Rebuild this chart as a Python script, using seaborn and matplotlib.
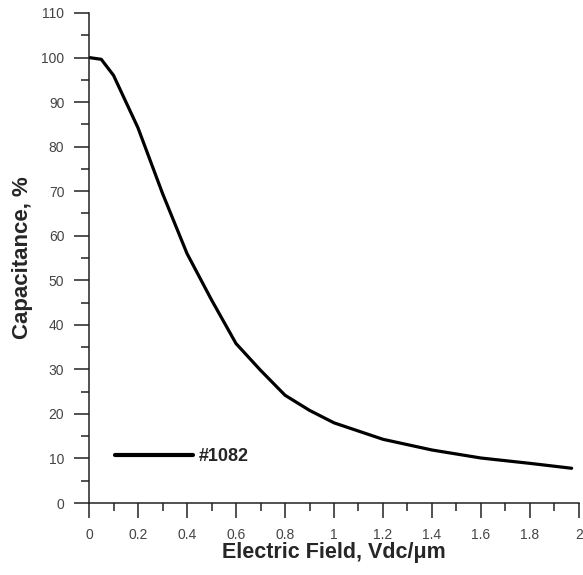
import numpy as np
import pandas as pd
import matplotlib
matplotlib.use("Agg")
import matplotlib.pyplot as plt
from matplotlib.ticker import MultipleLocator
import seaborn as sns

# values
field = [0.0, 0.05, 0.1, 0.2, 0.3, 0.4, 0.5, 0.6, 0.7, 0.8, 0.9, 1.0, 1.2, 1.4, 1.6, 1.8, 1.97]
capacitance = [100.0, 99.6, 96.0, 84.2, 69.5, 56.0, 45.6, 35.8, 29.8, 24.2, 20.8, 18.0, 14.3, 11.9, 10.1, 8.9, 7.8]
series_name = "#1082"

sns.set_style("ticks")
plt.rcParams['font.family'] = ['Liberation Sans', 'DejaVu Sans']

df = pd.DataFrame({'field': field, 'cap': capacitance, 'sample': series_name})

fig = plt.figure(figsize=(5.83, 5.75), dpi=100)
ax = fig.add_axes([0.1527, 0.1252, 0.8404, 0.8522])

sns.lineplot(data=df, x='field', y='cap', hue='sample', palette=['black'],
             linewidth=2.3, ax=ax)

ax.set_xlim(0, 2)
ax.set_ylim(0, 110)
ax.xaxis.set_minor_locator(MultipleLocator(0.1))
ax.yaxis.set_major_locator(MultipleLocator(10))
ax.yaxis.set_minor_locator(MultipleLocator(5))
ax.set_xticks(np.arange(0, 2.01, 0.2))
ax.set_xticklabels(['0', '0.2', '0.4', '0.6', '0.8', '1', '1.2', '1.4', '1.6', '1.8', '2'])

for s in ['top', 'right']:
    ax.spines[s].set_visible(False)
for s in ['left', 'bottom']:
    ax.spines[s].set_linewidth(1.1)
    ax.spines[s].set_color('#222222')

ax.tick_params(which='major', direction='out', length=10.8, width=1.1, pad=7,
               labelsize=10, labelcolor='#444444', color='#222222')
ax.tick_params(which='minor', direction='out', length=5.8, width=1.1, color='#222222')

ax.set_xlabel("Electric Field, Vdc/\u03bcm", fontsize=15.5, fontweight='bold', labelpad=0)
ax.set_ylabel("Capacitance, %", fontsize=16, fontweight='bold', labelpad=6)

leg = ax.legend(loc='center left', bbox_to_anchor=(0.053, 0.094), frameon=False,
                handlelength=4.3, handletextpad=0.35, borderpad=0, borderaxespad=0,
                prop={'weight': 'bold', 'size': 13})
for line in leg.get_lines():
    line.set_linewidth(3)

fig.savefig("out.png", dpi=100)
